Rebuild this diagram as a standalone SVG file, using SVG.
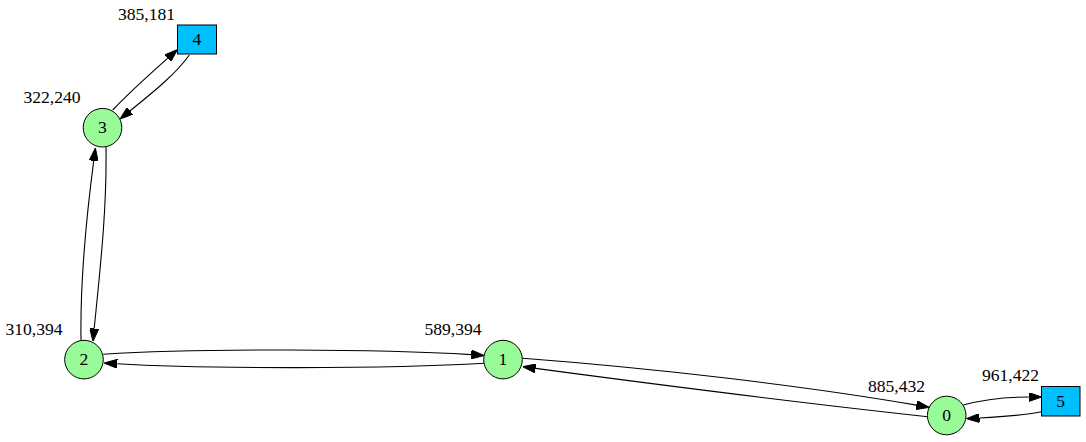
<svg xmlns="http://www.w3.org/2000/svg" width="1086" height="442" viewBox="0 0 1086 442">
<style>
.t{font-family:'Liberation Serif','Times New Roman',Times,serif;font-size:17.6px;fill:#000;text-anchor:middle}
.c{fill:#98fb98;stroke:#000;stroke-width:1}
.b{fill:#00bfff;stroke:#000;stroke-width:1}
.e{fill:none;stroke:#000;stroke-width:1.1;marker-end:url(#ah)}
</style>
<defs>
<marker id="ah" viewBox="0 0 13 9" refX="0" refY="4.5" markerWidth="13" markerHeight="9" markerUnits="userSpaceOnUse" orient="auto">
<path d="M0,0 L13,4.5 L0,9 z" fill="#000" stroke="#000" stroke-width="1"/>
</marker>
</defs>
<rect width="1086" height="442" fill="#fff"/>
<g id="edges">
<path class="e" d="M112.7,110 C130,92 150,74 167.8,58.2"/>
<path class="e" d="M189.3,55 C175,75 152,93 130.1,110.8"/>
<path class="e" d="M81,340 C80,280 86,220 93.7,160.9"/>
<path class="e" d="M106,147 C107,210 100,270 94.2,328.5"/>
<path class="e" d="M103.3,354.3 C200,348 380,349 471.3,354.6"/>
<path class="e" d="M484.3,363.3 C390,369 200,369 117.3,363.8"/>
<path class="e" d="M522.7,358.3 C650,368 800,385 916.4,405.1"/>
<path class="e" d="M927.7,416.7 C820,405 660,385 535.6,368.4"/>
<path class="e" d="M963.3,405 C985,399 1005,397 1028.7,397"/>
<path class="e" d="M1041.7,411.7 C1020,416 1000,417 979.5,418"/>
</g>
<g font-family="Liberation Serif, serif">
<g id="node4"><rect class="b" x="177.5" y="25" width="39" height="29"/><text class="t" x="197" y="45">4</text><text class="t" x="146.5" y="20">385,181</text></g>
<g id="node3"><circle class="c" cx="102.5" cy="127.7" r="19.3"/><text class="t" x="102.5" y="133">3</text><text class="t" x="52" y="103">322,240</text></g>
<g id="node2"><circle class="c" cx="84" cy="359.6" r="19.3"/><text class="t" x="84" y="365">2</text><text class="t" x="34" y="335">310,394</text></g>
<g id="node1"><circle class="c" cx="503" cy="359.6" r="19.3"/><text class="t" x="503" y="365">1</text><text class="t" x="453" y="335">589,394</text></g>
<g id="node0"><circle class="c" cx="946.7" cy="415.5" r="19.3"/><text class="t" x="946.7" y="421">0</text><text class="t" x="896.5" y="391.5">885,432</text></g>
<g id="node5"><rect class="b" x="1041.5" y="386.5" width="38.5" height="29.5"/><text class="t" x="1060.7" y="407">5</text><text class="t" x="1010.5" y="381">961,422</text></g>
</g>
</svg>
